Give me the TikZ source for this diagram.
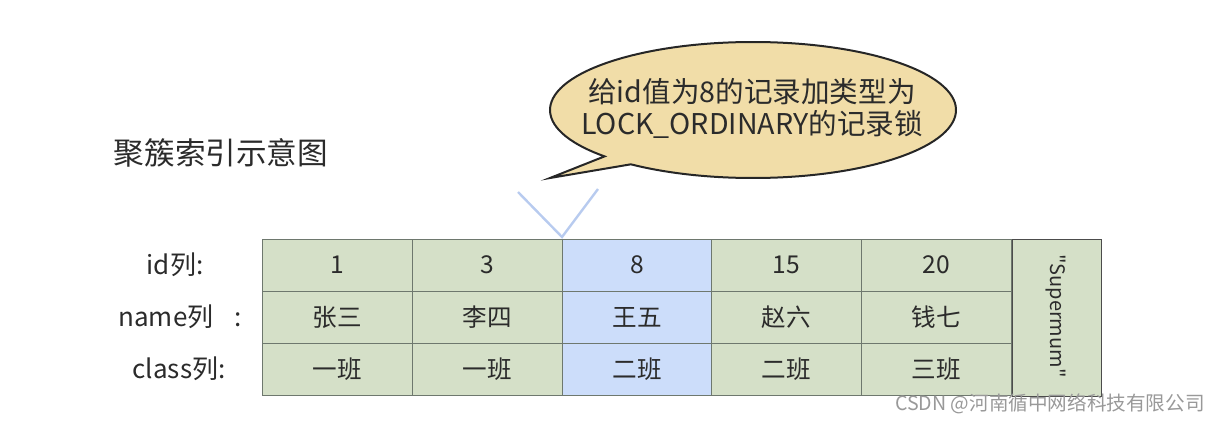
\documentclass[tikz,border=0pt]{standalone}
\usepackage{fontspec}
\setmainfont{Noto Sans CJK SC}
\newfontfamily\supfont[Ligatures=TeXOff]{Noto Sans CJK SC}
\definecolor{cellgreen}{HTML}{D5E0C8}
\definecolor{cellblue}{HTML}{CCDDFA}
\definecolor{cellborder}{HTML}{6E786E}
\definecolor{bubblefill}{HTML}{F1DDA8}
\definecolor{txt}{HTML}{2B2B2B}
\definecolor{vline}{HTML}{B8CBEF}
\begin{document}
\begin{tikzpicture}[x=0.5pt,y=-0.5pt,
  cell/.style={draw=cellborder,line width=0.5pt,fill=cellgreen,minimum width=75pt,minimum height=26pt,inner sep=0pt,text=txt,font=\fontsize{12.3}{14}\selectfont},
  hcell/.style={cell,fill=cellblue},
  lbl/.style={text=txt,font=\fontsize{13}{15}\selectfont,inner sep=0pt}]
\useasboundingbox (0,0) rectangle (1219,423);
% title
\node[text=txt,font=\fontsize{15.3}{18}\selectfont,inner sep=0pt] (title) at (221,153) {聚簇索引示意图};
% speech bubble
\coordinate (bc) at (753,110);
\coordinate (tip) at (550,178);
\draw[line width=1pt,draw=black!85,fill=bubblefill,line join=miter] (tip) -- ([shift={(137:203 and 68)}]bc) arc[start angle=137,end angle=487,x radius=203,y radius=68] -- cycle;
\node[text=txt,font=\fontsize{14.3}{16.5}\selectfont,align=center,inner sep=0pt] (btext) at (752,108) {给id值为8的记录加类型为\\[-0.5pt]LOCK\_ORDINARY的记录锁};
% V lines
\coordinate (vl) at (518,192);
\coordinate (vr) at (598,189);
\coordinate (vb) at (562,237);
\draw[vline,line width=1.2pt] (vl) -- (vb) -- (vr);
% row labels
\node[lbl] (l1) at (175,265) {id列:};
\node[lbl] (l2) at (180,317) {name列\hspace{0.8em}:};
\node[lbl] (l3) at (179,369) {class列:};
% cells
\node[cell] (a1) at (337.5,265) {1};
\node[cell] (b1) at (487,265) {3};
\node[hcell] (c1) at (637,265) {8};
\node[cell] (d1) at (786.5,265) {15};
\node[cell] (e1) at (936.5,265) {20};
\node[cell] (a2) at (337.5,317) {张三};
\node[cell] (b2) at (487,317) {李四};
\node[hcell] (c2) at (637,317) {王五};
\node[cell] (d2) at (786.5,317) {赵六};
\node[cell] (e2) at (936.5,317) {钱七};
\node[cell] (a3) at (337.5,369.5) {一班};
\node[cell] (b3) at (487,369.5) {一班};
\node[hcell] (c3) at (637,369.5) {二班};
\node[cell] (d3) at (786.5,369.5) {二班};
\node[cell] (e3) at (936.5,369.5) {三班};
\node[cell,minimum width=44.5pt,minimum height=78.5pt,draw=black!70] (sup) at (1056.5,318) {};
\node[text=txt,font=\supfont\fontsize{10}{12}\selectfont,rotate=-90,inner sep=0pt] (suptext) at (1056,316) {"Supermum"};
% watermark
\node[text=black!40,font=\fontsize{9.8}{11}\selectfont,inner sep=0pt,anchor=east] (wm) at (1205,404) {CSDN @河南循中网络科技有限公司};
\end{tikzpicture}
\end{document}
